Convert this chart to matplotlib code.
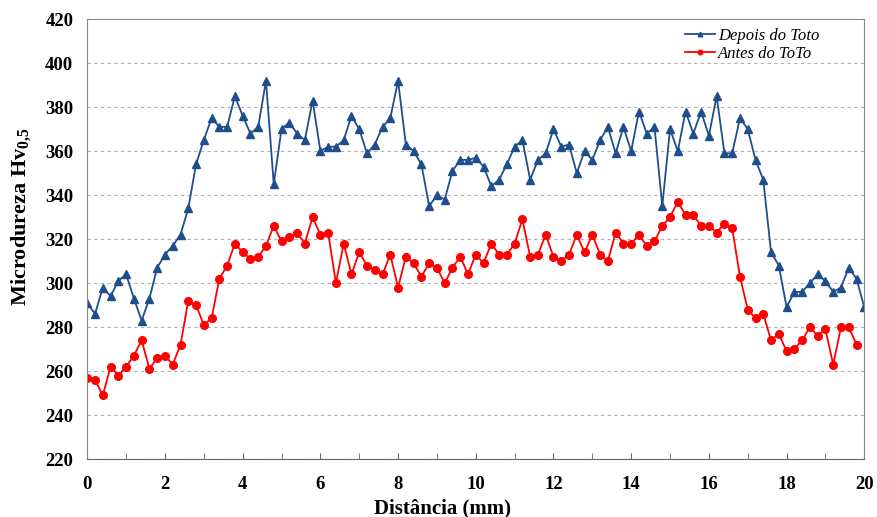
import numpy as np
import matplotlib
matplotlib.use("Agg")
import matplotlib.pyplot as plt
from matplotlib.ticker import MultipleLocator

plt.rcParams["font.family"] = ["Liberation Serif", "DejaVu Serif"]
plt.rcParams["mathtext.fontset"] = "custom"
plt.rcParams["mathtext.rm"] = "Liberation Serif"
plt.rcParams["mathtext.bf"] = "Liberation Serif:bold"

# distance in mm, one reading every 0.2 mm
dist_depois = np.round(np.arange(0, 20.01, 0.2), 1)
dist_antes = np.round(np.arange(0, 19.81, 0.2), 1)

depois = [291, 286, 298, 294, 301, 304, 293, 283, 293, 307,
          313, 317, 322, 334, 354, 365, 375, 371, 371, 385,
          376, 368, 371, 392, 345, 370, 373, 368, 365, 383,
          360, 362, 362, 365, 376, 370, 359, 363, 371, 375,
          392, 363, 360, 354, 335, 340, 338, 351, 356, 356,
          357, 353, 344, 347, 354, 362, 365, 347, 356, 359,
          370, 362, 363, 350, 360, 356, 365, 371, 359, 371,
          360, 378, 368, 371, 335, 370, 360, 378, 368, 378,
          367, 385, 359, 359, 375, 370, 356, 347, 314, 308,
          289, 296, 296, 300, 304, 301, 296, 298, 307, 302,
          289]

antes = [257, 256, 249, 262, 258, 262, 267, 274, 261, 266,
         267, 263, 272, 292, 290, 281, 284, 302, 308, 318,
         314, 311, 312, 317, 326, 319, 321, 323, 318, 330,
         322, 323, 300, 318, 304, 314, 308, 306, 304, 313,
         298, 312, 309, 303, 309, 307, 300, 307, 312, 304,
         313, 309, 318, 313, 313, 318, 329, 312, 313, 322,
         312, 310, 313, 322, 314, 322, 313, 310, 323, 318,
         318, 322, 317, 319, 326, 330, 337, 331, 331, 326,
         326, 323, 327, 325, 303, 288, 284, 286, 274, 277,
         269, 270, 274, 280, 276, 279, 263, 280, 280, 272]

fig = plt.figure(figsize=(8.77, 5.17), dpi=100)
ax = fig.add_axes([0.0995, 0.112, 0.886, 0.851])

ax.plot(dist_depois, depois, color="#1F4E8C", lw=1.3, marker="^", ms=5.5,
        label="Depois do Toto")
ax.plot(dist_antes, antes, color="#FF0000", lw=1.3, marker="o", ms=5.5,
        label="Antes do ToTo")

ax.set_xlim(0, 20)
ax.set_ylim(220, 420)
ax.xaxis.set_major_locator(MultipleLocator(2))
ax.xaxis.set_minor_locator(MultipleLocator(1))
ax.yaxis.set_major_locator(MultipleLocator(20))

ax.grid(axis="y", color="#b0b0b0", ls=(0, (3, 3)), lw=0.8)
ax.set_axisbelow(True)

for side in ["left", "top", "right"]:
    ax.spines[side].set_color("#888888")
ax.spines["bottom"].set_color("#666666")

ax.tick_params(axis="x", which="both", direction="in", length=4, color="#666666",
               labelsize=13.5, pad=12)
ax.tick_params(axis="y", length=0, labelsize=13.5, pad=10)
for lbl in ax.get_xticklabels() + ax.get_yticklabels():
    lbl.set_fontweight("bold")

ax.set_xlabel("Distância (mm)", fontsize=15, fontweight="bold")
ax.xaxis.set_label_coords(0.457, -0.09)
ax.set_ylabel(r"Microdureza Hv$_{\mathbf{0{,}5}}$", fontsize=16, fontweight="bold")
ax.yaxis.set_label_coords(-0.068, 0.55)

leg = ax.legend(loc="upper right", bbox_to_anchor=(0.942, 0.98), frameon=False,
                prop={"style": "italic", "size": 12}, handlelength=1.8,
                handletextpad=0.2, labelspacing=0.12, borderaxespad=0,
                borderpad=0, markerscale=0.6)

fig.savefig("out.png", dpi=100)
